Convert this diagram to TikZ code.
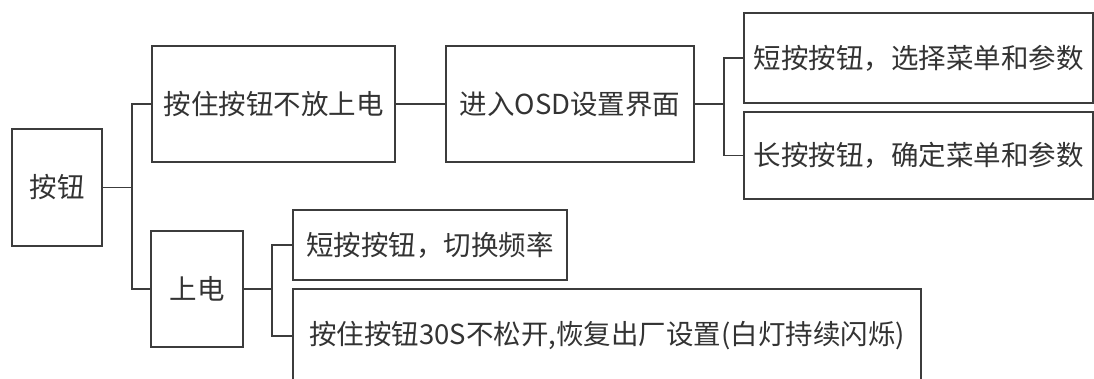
\documentclass[tikz,border=0pt]{standalone}
\usepackage{fontspec}
\newfontfamily\cjk{Noto Sans CJK SC}
\definecolor{linegray}{HTML}{3C3C3C}
\definecolor{textgray}{HTML}{333333}
\tikzset{
  boxnode/.style={draw=linegray, line width=1.8pt, rectangle, inner sep=0pt,
    text=textgray, font=\cjk\fontsize{27.5}{30}\selectfont, align=center},
  conn/.style={draw=linegray, line width=1.8pt}
}
\begin{document}
\begin{tikzpicture}[x=1pt,y=-1pt]
\useasboundingbox (0,0) rectangle (1094,379);
\clip (0,0) rectangle (1094,379);
\fill[white] (0,0) rectangle (1094,379);
\node[boxnode, minimum width=90pt, minimum height=117pt] (b) at (57,187.5) {按钮};
\node[boxnode, minimum width=243pt, minimum height=116pt] (n1) at (273.5,104) {按住按钮不放上电};
\node[boxnode, minimum width=248pt, minimum height=116pt] (n2) at (570,104) {进入OSD设置界面};
\node[boxnode, minimum width=349pt, minimum height=90pt] (n3) at (918.5,58) {短按按钮，选择菜单和参数};
\node[boxnode, minimum width=349pt, minimum height=87pt] (n4) at (918.5,155.5) {长按按钮，确定菜单和参数};
\node[boxnode, minimum width=92pt, minimum height=116pt] (n5) at (197,289) {上电};
\node[boxnode, minimum width=274pt, minimum height=70pt] (n6) at (430,245) {短按按钮，切换频率};
\node[boxnode, minimum width=628pt, minimum height=94pt] (n7) at (607,336) {按住按钮30S不松开,恢复出厂设置(白灯持续闪烁)};
\coordinate (j1) at (132,187.5);
\coordinate (j2) at (724,104);
\coordinate (j3) at (272,289);
\draw[conn] (b.east) -- (j1);
\draw[conn] (n1.west) -| (j1);
\draw[conn] (n5.west) -| (j1);
\draw[conn] (n1.east) -- (n2.west);
\draw[conn] (n2.east) -- (j2);
\draw[conn] (n3.west) -| (j2);
\draw[conn] (n4.west) -| (j2);
\draw[conn] (n5.east) -- (j3);
\draw[conn] (n6.west) -| (j3);
\draw[conn] (n7.west) -| (j3);
\end{tikzpicture}
\end{document}
